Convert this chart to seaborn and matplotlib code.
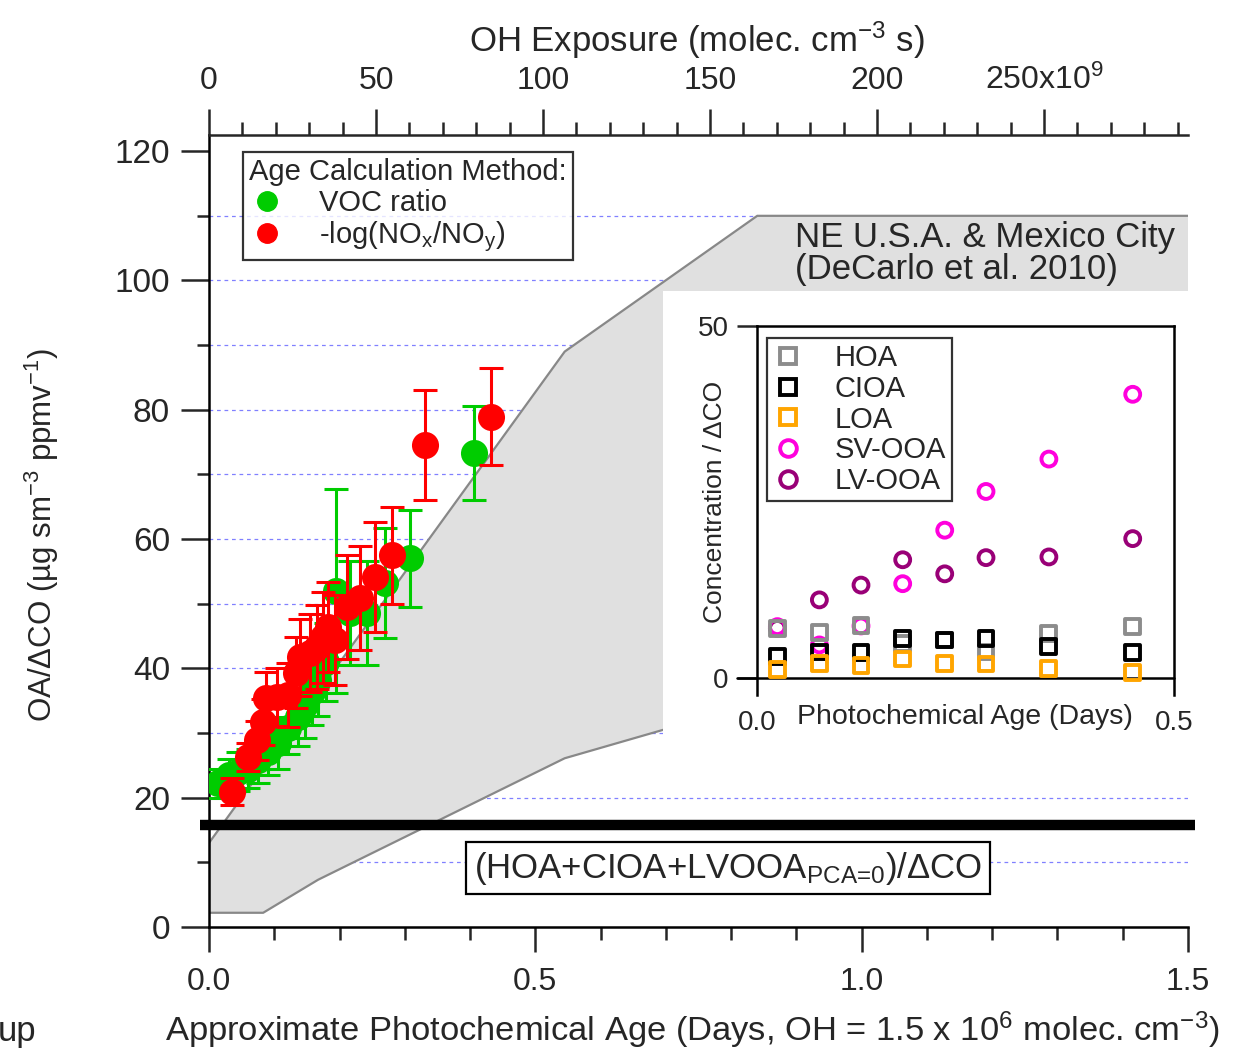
import numpy as np
import pandas as pd
import seaborn as sns
import matplotlib
matplotlib.use("Agg")
import matplotlib.pyplot as plt
from matplotlib.lines import Line2D
from matplotlib.patches import Rectangle
from matplotlib.ticker import MultipleLocator, FixedLocator

# ---------------- data ----------------
voc_age = [0.014, 0.030, 0.045, 0.060, 0.075, 0.091, 0.106, 0.121, 0.137, 0.147,
           0.158, 0.167, 0.180, 0.195, 0.216, 0.242, 0.270, 0.308, 0.406]
voc_oa = [22.2, 23.5, 24.0, 24.5, 25.8, 27.0, 28.5, 30.8, 32.5, 34.3,
          36.3, 38.2, 41.0, 52.0, 48.6, 48.6, 53.2, 57.0, 73.3]
voc_err = [2.3, 2.5, 3.0, 3.0, 3.5, 3.5, 4.0, 4.0, 4.5, 5.0,
           5.0, 5.5, 6.0, 15.8, 8.0, 8.0, 8.5, 7.5, 7.3]

nox_age = [0.035, 0.060, 0.073, 0.083, 0.088, 0.104, 0.121, 0.134, 0.139, 0.155,
           0.165, 0.175, 0.182, 0.193, 0.211, 0.231, 0.254, 0.280, 0.331, 0.432]
nox_oa = [20.9, 26.3, 28.9, 31.7, 35.4, 35.6, 35.9, 39.3, 41.7, 42.4,
          43.3, 44.8, 46.4, 44.4, 49.5, 50.9, 54.1, 57.5, 74.5, 78.9]
nox_err = [2.1, 2.2, 3.0, 3.5, 4.0, 4.5, 5.0, 5.5, 6.0, 6.0,
           6.5, 7.0, 7.0, 7.0, 8.0, 8.0, 8.5, 7.5, 8.5, 7.5]

band_upper_age = [0.0, 0.545, 0.84, 1.5]
band_upper_val = [13.0, 89.0, 110.0, 110.0]
band_lower_age = [0.0, 0.083, 0.167, 0.545, 0.696, 1.5]
band_lower_val = [2.2, 2.2, 7.3, 26.1, 30.5, 45.0]
pca0_level = 15.8

inset_age = [0.0244, 0.0748, 0.1247, 0.1747, 0.2251, 0.2746, 0.350, 0.4505]
hoa = [7.05, 6.5, 7.4, 4.9, 5.4, 3.7, 6.3, 7.3]
cioa = [3.0, 3.7, 3.6, 5.6, 5.4, 5.6, 4.5, 3.6]
loa = [1.2, 2.1, 1.8, 2.7, 2.1, 2.0, 1.3, 0.8]
sv_ooa = [7.3, 4.7, 7.4, 13.4, 21.0, 26.5, 31.1, 40.3]
lv_ooa = [7.05, 11.1, 13.2, 16.8, 14.8, 17.1, 17.2, 19.8]

x_major = [0.0, 0.5, 1.0, 1.5]
x_major_labels = ["0.0", "0.5", "1.0", "1.5"]
top_major = [0, 50, 100, 150, 200, 250]
top_labels = ["0", "50", "100", "150", "200", r"250x10$^{9}$"]
y_major = [0, 20, 40, 60, 80, 100, 120]
y_major_labels = ["0", "20", "40", "60", "80", "100", "120"]

# ---------------- style ----------------
sns.set_style("white")
plt.rcParams["font.family"] = ["Liberation Sans", "DejaVu Sans"]
plt.rcParams["mathtext.fontset"] = "custom"
plt.rcParams["mathtext.rm"] = "Liberation Sans"
plt.rcParams["mathtext.it"] = "Liberation Sans:italic"
plt.rcParams["mathtext.bf"] = "Liberation Sans:bold"

W, H = 1238, 1049
fig = plt.figure(figsize=(W / 100, H / 100), dpi=100)
fig.patch.set_facecolor("white")

def fx(px):
    return px / W

def fy(py):
    return 1 - py / H

# main axes
ax = fig.add_axes([fx(209), fy(927), fx(1188) - fx(209), fy(135) - fy(927)])
ax.set_facecolor("white")
ax.set_xlim(0, 1.5)
ax.set_ylim(0, 122.5)

for s in ["right", "top"]:
    ax.spines[s].set_visible(False)
for s in ["left", "bottom"]:
    ax.spines[s].set_linewidth(1.8)
    ax.spines[s].set_color("black")

ax.xaxis.set_major_locator(FixedLocator(x_major))
ax.set_xticklabels(x_major_labels)
ax.xaxis.set_minor_locator(MultipleLocator(0.1))
ax.yaxis.set_major_locator(FixedLocator(y_major))
ax.set_yticklabels(y_major_labels)
ax.yaxis.set_minor_locator(MultipleLocator(10))
ax.tick_params(axis="x", which="major", direction="out", length=18, width=1.8, pad=11,
               bottom=True, labelsize=23)
ax.tick_params(axis="x", which="minor", direction="out", length=9.5, width=1.8, bottom=True)
ax.tick_params(axis="y", which="major", direction="out", length=20, width=1.8, pad=8,
               left=True, labelsize=24)
ax.tick_params(axis="y", which="minor", direction="out", length=9, width=1.8, left=True)

# dashed horizontal grid
for g in range(10, 120, 10):
    ax.axhline(g, color="#8080ff", lw=0.9, ls=(0, (3, 3)), zorder=0.5)

# band
poly_x = band_upper_age + band_lower_age[::-1]
poly_y = band_upper_val + band_lower_val[::-1]
ax.fill(poly_x, poly_y, color="#e0e0e0", lw=0, zorder=1)
ax.plot(band_upper_age, band_upper_val, color="#888888", lw=1.6, zorder=1.2)
ax.plot(band_lower_age, band_lower_val, color="#888888", lw=1.6, zorder=1.2)

# white inset area
ax.add_patch(Rectangle((0.696, 29.6), 1.5 - 0.696, 98.3 - 29.6, facecolor="white",
                       edgecolor="none", zorder=1.5))

ax.text(0.898, 104.2, "NE U.S.A. & Mexico City\n(DeCarlo et al. 2010)", fontsize=25,
        ha="left", va="center", linespacing=0.95, zorder=3)

# thick black line
ax.plot([-0.014, 1.511], [pca0_level, pca0_level], color="black", lw=7.5,
        solid_capstyle="butt", clip_on=False, zorder=6)

ax.text(0.795, 9.1, r"(HOA+CIOA+LVOOA$_{\text{PCA=0}}$)/ΔCO", fontsize=25,
        ha="center", va="center", zorder=6,
        bbox=dict(boxstyle="square,pad=0.22", fc="white", ec="black", lw=1.6))

# scatter with error bars
green = "#00cc00"
red = "#ff0000"
df_voc = pd.DataFrame({"age": voc_age, "oa": voc_oa, "err": voc_err})
df_nox = pd.DataFrame({"age": nox_age, "oa": nox_oa, "err": nox_err})

ax.errorbar(df_voc["age"], df_voc["oa"], yerr=df_voc["err"], fmt="none", ecolor=green,
            elinewidth=2.2, capsize=8.5, capthick=2.2, zorder=7)
sns.scatterplot(data=df_voc, x="age", y="oa", ax=ax, color=green, s=380, linewidth=0,
                zorder=8, legend=False)
ax.errorbar(df_nox["age"], df_nox["oa"], yerr=df_nox["err"], fmt="none", ecolor=red,
            elinewidth=2.2, capsize=8.5, capthick=2.2, zorder=9)
sns.scatterplot(data=df_nox, x="age", y="oa", ax=ax, color=red, s=380, linewidth=0,
                zorder=10, legend=False)
ax.set_xlabel("")
ax.set_ylabel("")

handles = [Line2D([], [], ls="none", marker="o", ms=14, color=green, mec=green),
           Line2D([], [], ls="none", marker="o", ms=14, color=red, mec=red)]
leg = ax.legend(handles, ["VOC ratio", r"-log(NO$_{\mathrm{x}}$/NO$_{\mathrm{y}}$)"],
                title="Age Calculation Method:", loc="upper left",
                bbox_to_anchor=((243 - 209) / 979, (927 - 152) / 792), borderaxespad=0,
                fontsize=21, title_fontsize=21, frameon=True, fancybox=False,
                edgecolor="black", handlelength=1.2, handletextpad=1.2,
                labelspacing=0.08, borderpad=0.22, alignment="left")
leg.get_frame().set_linewidth(1.6)
leg.set_zorder(12)

# top axis
ax2 = ax.twiny()
ax2.set_xlim(0, 293.1)
for s in ["right", "left", "bottom"]:
    ax2.spines[s].set_visible(False)
ax2.spines["top"].set_linewidth(1.8)
ax2.xaxis.set_major_locator(FixedLocator(top_major))
ax2.set_xticklabels(top_labels)
ax2.xaxis.set_minor_locator(MultipleLocator(10))
ax2.tick_params(axis="x", which="major", direction="out", length=19, width=1.8, pad=9,
                top=True, labelsize=23)
ax2.tick_params(axis="x", which="minor", direction="out", length=9.5, width=1.8, top=True)

# axis titles
fig.text(fx(697), fy(40), r"OH Exposure (molec. cm$^{-3}$ s)",
         fontsize=25, ha="center", va="center")
fig.text(fx(692), fy(1030),
         r"Approximate Photochemical Age (Days, OH = 1.5 x 10$^{6}$ molec. cm$^{-3}$)",
         fontsize=24.8, ha="center", va="center")
fig.text(fx(42), fy(535), r"OA/ΔCO (µg sm$^{-3}$ ppmv$^{-1}$)", fontsize=22.5,
         rotation=90, ha="center", va="center")
fig.text(fx(-2), fy(1041), "up", fontsize=25, ha="left", va="baseline")

# ---------------- inset ----------------
axi = fig.add_axes([fx(757), fy(695), fx(1174) - fx(757), fy(326) - fy(695)])
axi.set_facecolor("none")
axi.set_xlim(0, 0.5)
axi.set_ylim(-2.41, 50)
axi.spines["bottom"].set_visible(False)
for s in ["top", "left", "right"]:
    axi.spines[s].set_linewidth(1.8)
    axi.spines[s].set_color("black")
axi.set_yticks([0, 50])
axi.set_yticklabels(["0", "50"])
axi.set_xticks([0.0, 0.5])
axi.set_xticklabels(["0.0", "0.5"])
axi.tick_params(axis="y", direction="out", length=14.4, width=1.8, pad=6, left=True,
                labelsize=20)
axi.tick_params(axis="x", length=0, pad=11, labelsize=20, bottom=True)
axi.plot([-0.024, 0.5], [0, 0], color="black", lw=1.8, clip_on=False, zorder=1)

inset_df = pd.DataFrame({
    "age": inset_age * 5,
    "val": hoa + cioa + loa + sv_ooa + lv_ooa,
    "comp": ["HOA"] * 8 + ["CIOA"] * 8 + ["LOA"] * 8 + ["SV-OOA"] * 8 + ["LV-OOA"] * 8,
})
comp_colors = {"HOA": "#8c8c8c", "CIOA": "#000000", "LOA": "#ffa500",
               "SV-OOA": "#ff00dd", "LV-OOA": "#990077"}
comp_markers = {"HOA": "s", "CIOA": "s", "LOA": "s", "SV-OOA": "o", "LV-OOA": "o"}
for comp in ["LV-OOA", "SV-OOA", "HOA", "CIOA", "LOA"]:
    sub = inset_df[inset_df["comp"] == comp]
    sns.scatterplot(data=sub, x="age", y="val", ax=axi, marker=comp_markers[comp],
                    s=115, facecolors="none", edgecolor=comp_colors[comp],
                    linewidth=2.8, legend=False, zorder=3)
axi.set_xlabel("")
axi.set_ylabel("")

ihandles = [Line2D([], [], ls="none", marker=comp_markers[c], ms=12, mfc="none",
                   mec=comp_colors[c], mew=2.8) for c in comp_colors]
ileg = axi.legend(ihandles, list(comp_colors.keys()), loc="upper left",
                  bbox_to_anchor=((767 - 757) / 417, (695 - 338) / 369), borderaxespad=0,
                  fontsize=21, frameon=True, fancybox=False, edgecolor="black",
                  handlelength=1.0, handletextpad=1.1, labelspacing=0.09, borderpad=0.22)
ileg.get_frame().set_linewidth(1.6)

fig.text(fx(965), fy(717), "Photochemical Age (Days)", fontsize=20.5, ha="center",
         va="center")
fig.text(fx(715), fy(502), "Concentration / ΔCO", fontsize=19, rotation=90,
         ha="center", va="center")

fig.savefig("out.png", dpi=100, facecolor="white")
